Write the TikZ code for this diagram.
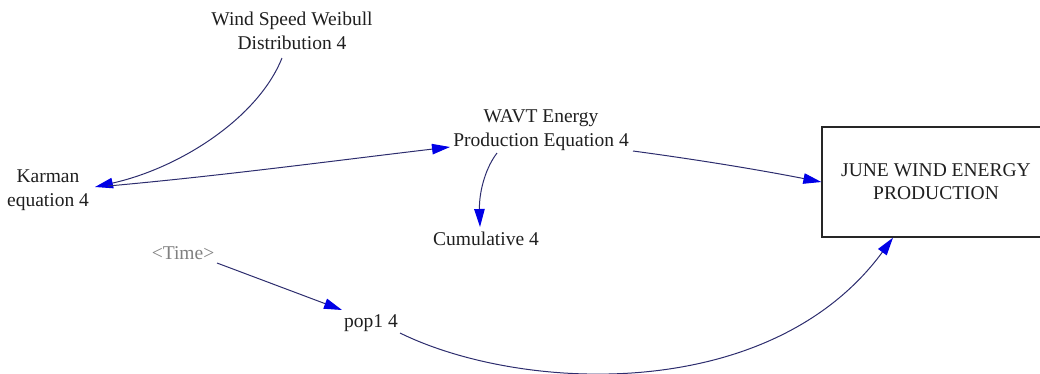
\documentclass[tikz,border=0pt]{standalone}
\usepackage{fontspec}
\setmainfont{Liberation Serif}
\usetikzlibrary{arrows.meta}
\definecolor{linkcol}{RGB}{45,45,110}
\definecolor{tipcol}{RGB}{0,0,230}
\definecolor{shadowtxt}{RGB}{128,128,128}
\begin{document}
\begin{tikzpicture}[x=1pt,y=-1pt,
  var/.style={align=center,inner sep=0pt,font=\fontsize{19.5}{24}\selectfont,text=black!88},
  ghost/.style={var,text=shadowtxt},
  level/.style={draw=black!85,line width=1.3pt,minimum width=228pt,minimum height=110pt,
    align=center,inner sep=0pt,font=\fontsize{19.5}{23}\selectfont,text=black!88},
  link/.style={draw=linkcol,line width=1pt,
    -{Triangle[length=18pt,width=10.5pt,fill=tipcol,color=tipcol]}}]
  \clip (0,0) rectangle (1040,373);

  % variables
  \node[var] (weibull) at (292,31) {Wind Speed Weibull\\Distribution 4};
  \node[var] (karman) at (48,190) {Karman\\equation 4};
  \node[var] (wavt) at (541,130) {WAVT Energy\\Production Equation 4};
  \node[var] (cumul) at (486,239) {Cumulative 4};
  \node[ghost] (time) at (183,253) {<Time>};
  \node[var] (pop) at (371,323) {pop1 4};
  \node[level] (june) at (936,182) {JUNE WIND ENERGY\\PRODUCTION};

  % causal links
  \draw[link] ([shift={(-10,27)}]weibull.center)
     .. controls (258,118) and (180,168) .. ([shift={(47,-3)}]karman.center);
  \draw[link] ([shift={(60,-4)}]karman.center)
     .. controls (220,176) and (340,160) .. ([shift={(-91,17)}]wavt.center);
  \draw[link] ([shift={(92,21)}]wavt.center)
     .. controls (700,160) and (760,170) .. (june.west);
  \draw[link] ([shift={(-44,23)}]wavt.center)
     .. controls (484,170) and (479,195) .. ([shift={(-6,-12)}]cumul.center);
  \draw[link] ([shift={(34,10)}]time.center) -- ([shift={(-29,-13)}]pop.center);
  \draw[link] ([shift={(29,10)}]pop.center)
     .. controls (520,392) and (770,405) .. ([shift={(-43,0)}]june.south);
\end{tikzpicture}
\end{document}
